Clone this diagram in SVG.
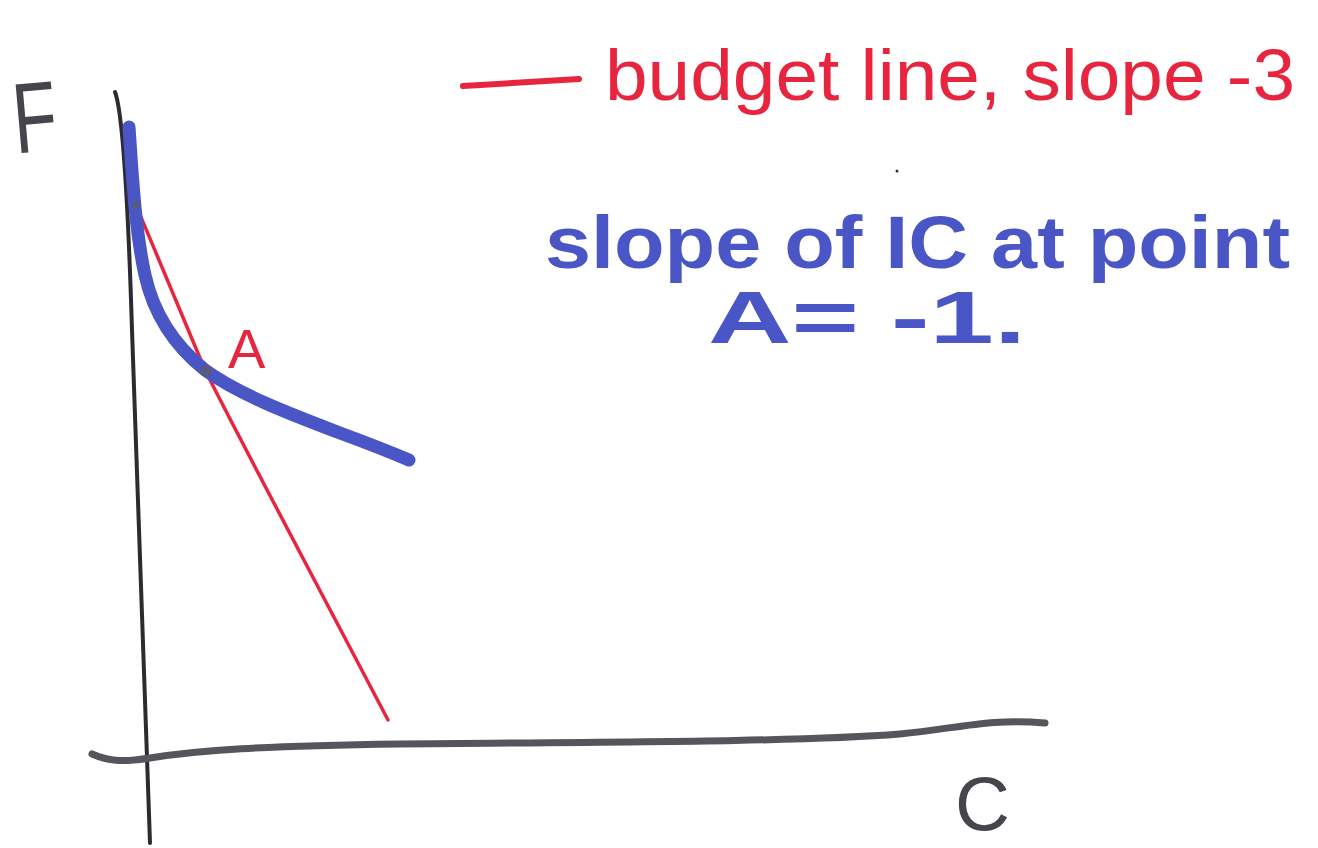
<svg xmlns="http://www.w3.org/2000/svg" width="1318" height="848" viewBox="0 0 1318 848">
<style>
.ink{fill:none;stroke-linecap:round;stroke-linejoin:round}
.axis{stroke:#2b2b30;stroke-width:4}
.axis2{stroke:#55555c;stroke-width:7}
.red{stroke:#e8253f}
.blue{stroke:#4a56c6}
.t{font-family:"Liberation Sans","DejaVu Sans",sans-serif}
.tr{fill:#e8253f}
.tb{fill:#4a56c6;font-weight:bold}
.tg{fill:#45454c}
</style>
<rect width="1318" height="848" fill="#ffffff"/>
<g id="axes">
<path class="ink axis" d="M115,92 C122,110 128,200 132,330 C138,520 146,700 150,843"/>
<path class="ink axis2" d="M92,754 C110,762 125,762 150,758 C200,750 260,746 400,744 C600,742 800,742 900,734 C960,728 990,718 1045,723"/>
</g>
<g id="label-F"><text class="t tg" x="12" y="152" font-size="100" textLength="44" lengthAdjust="spacingAndGlyphs" transform="rotate(-5 30 110)">F</text></g>
<g id="label-C"><text class="t tg" x="955" y="830" font-size="76">C</text></g>
<g id="budget-line"><path class="ink red" stroke-width="3.5" d="M135,203 C160,262 188,330 205,370 C240,440 320,590 388,720"/></g>
<g id="indifference-curve"><path class="ink blue" stroke-width="13" d="M129,127 C132,170 135,230 145,275 C155,320 180,350 205,370 C240,395 290,414 340,433 C370,444 390,452 409,460"/></g>
<g id="point-A">
<circle cx="206" cy="371" r="6" fill="#555a80"/>
<circle cx="136" cy="205" r="4" fill="#555a80"/>
<text class="t tr" x="228" y="368" font-size="56">A</text>
</g>
<g id="legend">
<path class="ink red" stroke-width="6" d="M463,86 L579,79"/>
<text class="t tr" x="605" y="100" font-size="72" textLength="690" lengthAdjust="spacingAndGlyphs">budget line, slope -3</text>
</g>
<g id="note">
<text class="t tb" x="545" y="268" font-size="74" textLength="745" lengthAdjust="spacingAndGlyphs">slope of IC at point</text>
<text class="t tb" x="708" y="343" font-size="74" textLength="318" lengthAdjust="spacingAndGlyphs">A= -1.</text>
<circle cx="897" cy="171" r="1.5" fill="#333"/>
</g>
</svg>
